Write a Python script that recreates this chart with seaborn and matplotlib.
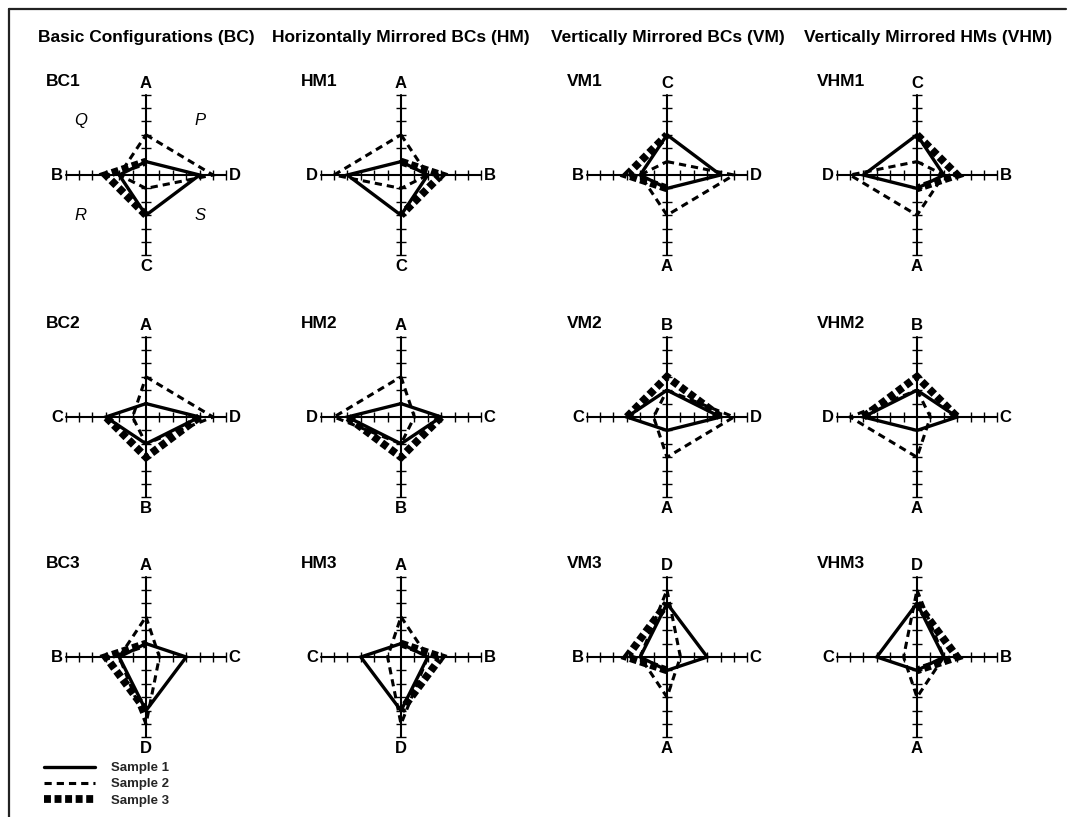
import matplotlib
matplotlib.use("Agg")
import numpy as np
import pandas as pd
import seaborn as sns
import matplotlib.pyplot as plt
from matplotlib.lines import Line2D
from matplotlib.collections import LineCollection

# ---- data -------------------------------------------------------------
variables = ["A", "B", "C", "D"]
sample_names = ["Sample 1", "Sample 2", "Sample 3"]
sample1 = [1, 2, 3, 4]
sample2 = [3, 2, 1, 5]
sample3 = [1, 3, 3, 4]
axis_max = 6

column_titles = [
    "Basic Configurations (BC)",
    "Horizontally Mirrored BCs (HM)",
    "Vertically Mirrored BCs (VM)",
    "Vertically Mirrored HMs (VHM)",
]

# variable placed on each arm: (up, right, down, left)
panel_names = [
    ["BC1", "HM1", "VM1", "VHM1"],
    ["BC2", "HM2", "VM2", "VHM2"],
    ["BC3", "HM3", "VM3", "VHM3"],
]
panel_arms = {
    "BC1": ("A", "D", "C", "B"), "HM1": ("A", "B", "C", "D"),
    "VM1": ("C", "D", "A", "B"), "VHM1": ("C", "B", "A", "D"),
    "BC2": ("A", "D", "B", "C"), "HM2": ("A", "C", "B", "D"),
    "VM2": ("B", "D", "A", "C"), "VHM2": ("B", "C", "A", "D"),
    "BC3": ("A", "C", "D", "B"), "HM3": ("A", "B", "D", "C"),
    "VM3": ("D", "C", "A", "B"), "VHM3": ("D", "B", "A", "C"),
}
quadrant_names = ["Q", "P", "R", "S"]

# ---- styling ----------------------------------------------------------
sns.set_theme(style="white")
plt.rcParams["font.family"] = ["Liberation Sans", "DejaVu Sans"]
plt.rcParams["lines.scale_dashes"] = False

line_styles = {
    "Sample 3": dict(lw=5.6, ls=(0, (5.0, 2.6))),
    "Sample 2": dict(lw=2.2, ls=(0, (5.2, 3.6))),
    "Sample 1": dict(lw=2.4, ls="-"),
}

W, H = 1073, 817
unit = 13.4          # pixels per scale step
half = 7.6           # half-extent of each panel in scale steps
col_x = [146, 401, 667, 917]
row_y = [175, 417, 657]

fig = plt.figure(figsize=(W / 100, H / 100), dpi=100)

values = {
    "Sample 1": dict(zip(variables, sample1)),
    "Sample 2": dict(zip(variables, sample2)),
    "Sample 3": dict(zip(variables, sample3)),
}
arm_dirs = [(0, 1), (1, 0), (0, -1), (-1, 0)]


def arm_point(sname, var, direction):
    v = values[sname][var]
    return (direction[0] * v, direction[1] * v)


def sample_paths(sname, arms):
    """Polylines for one sample; edges that coincide with Sample 1 are left
    to the solid line."""
    pts = [arm_point(sname, var, d) for var, d in zip(arms, arm_dirs)]
    n = len(pts)
    if sname == "Sample 1":
        keep = [True] * n
    else:
        same = [values[sname][v] == values["Sample 1"][v] for v in arms]
        keep = [not (same[i] and same[(i + 1) % n]) for i in range(n)]
    if all(keep):
        return [pts + [pts[0]]]
    start = next(i for i in range(n) if not keep[i - 1])
    runs, cur = [], []
    for k in range(n):
        i = (start + k) % n
        if keep[i]:
            if not cur:
                cur = [pts[i]]
            cur.append(pts[(i + 1) % n])
        elif cur:
            runs.append(cur)
            cur = []
    if cur:
        runs.append(cur)
    return runs


for r, row in enumerate(panel_names):
    for c, name in enumerate(row):
        cx, cy = col_x[c], row_y[r]
        size = 2 * half * unit
        ax = fig.add_axes([(cx - half * unit) / W, (H - cy - half * unit) / H,
                           size / W, size / H])
        ax.set_xlim(-half, half)
        ax.set_ylim(-half, half)

        # cross-shaped axes with tick marks
        ax.plot([-axis_max, axis_max], [0, 0], color="black", lw=1.5, zorder=1)
        ax.plot([0, 0], [-axis_max, axis_max], color="black", lw=1.5, zorder=1)
        segs = []
        for k in range(1, axis_max + 1):
            for s in (-1, 1):
                segs.append([(s * k, -0.36), (s * k, 0.36)])
                segs.append([(-0.36, s * k), (0.36, s * k)])
        ax.add_collection(LineCollection(segs, colors="black", linewidths=1.0, zorder=1))

        arms = panel_arms[name]
        lab = dict(fontsize=12, fontweight="bold", color="black")
        ax.text(0, axis_max + 0.25, arms[0], ha="center", va="bottom", **lab)
        ax.text(axis_max + 0.15, 0, arms[1], ha="left", va="center", **lab)
        ax.text(0, -axis_max - 0.25, arms[2], ha="center", va="top", **lab)
        ax.text(-axis_max - 0.2, 0, arms[3], ha="right", va="center", **lab)
        ax.text(-7.46, 7.0, name, ha="left", va="center", fontsize=12.5,
                fontweight="bold", color="black")

        if name == "BC1":
            qpos = [(-4.9, 4.05), (4.05, 4.05), (-4.9, -3.0), (4.05, -3.0)]
            for q, (qx, qy) in zip(quadrant_names, qpos):
                ax.text(qx, qy, q, ha="center", va="center", fontsize=12,
                        fontstyle="italic", color="black")

        n_fixed = len(ax.lines)
        for z, sname in enumerate(["Sample 3", "Sample 2", "Sample 1"]):
            rows = []
            for seg_id, path in enumerate(sample_paths(sname, arms)):
                for px, py in path:
                    rows.append((seg_id, px, py))
            df = pd.DataFrame(rows, columns=["seg", "x", "y"])
            st = line_styles[sname]
            sns.lineplot(data=df, x="x", y="y", units="seg", sort=False,
                         estimator=None, color="black", lw=st["lw"],
                         linestyle=st["ls"], ax=ax, zorder=2 + z)
        for ln in ax.lines[n_fixed:]:
            ln.set_solid_joinstyle("miter")
            ln.set_dash_capstyle("butt")
            ln.set_dash_joinstyle("miter")
        ax.axis("off")

# ---- frame, column titles, legend -------------------------------------
over = fig.add_axes([0, 0, 1, 1], zorder=-1)
over.set_xlim(0, W)
over.set_ylim(H, 0)
over.axis("off")
over.plot([9, 9], [9, H], color="#222222", lw=1.6)
over.plot([9, 1066], [9, 9], color="#222222", lw=1.6)

title_x = [146, 401, 668, 928]
for tx, t in zip(title_x, column_titles):
    over.text(tx, 37, t, ha="center", va="center", fontsize=12.5,
              fontweight="bold", color="black")

handles = [Line2D([], [], color="black", lw=line_styles[s]["lw"],
                  linestyle=line_styles[s]["ls"], dash_capstyle="butt")
           for s in sample_names]
fig.legend(handles, sample_names, loc="upper left",
           bbox_to_anchor=(44 / W, (H - 762) / H), frameon=False,
           borderpad=0, borderaxespad=0, handlelength=3.9, handletextpad=1.2,
           labelspacing=0.3, prop=dict(size=9.5, weight="bold"))

fig.savefig("out.png", dpi=100, facecolor="white")
